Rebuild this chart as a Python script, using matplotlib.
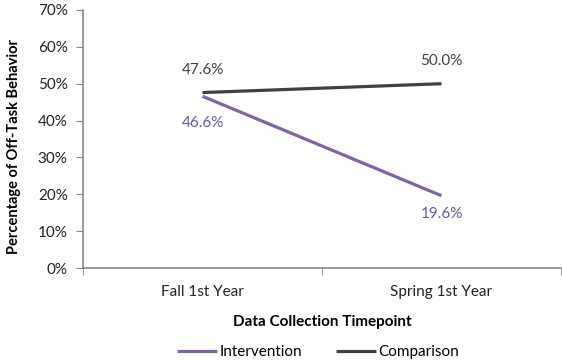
import numpy as np
import matplotlib.pyplot as plt

plt.rcParams['font.family'] = ['Lato', 'DejaVu Sans']

timepoints = ['Fall 1st Year', 'Spring 1st Year']
intervention = [46.6, 19.6]
comparison = [47.6, 50.0]
yticks = np.arange(0, 80, 10)

purple = '#8064a2'
dark = '#404040'
grey = '#868686'
fs = 11

fig = plt.figure(figsize=(5.62, 3.61), dpi=100)
ax = fig.add_axes([0.1477, 0.2576, 0.8505, 0.7147])

x = np.arange(1, len(timepoints) + 1)
ax.plot(x, intervention, color=purple, lw=2.3, solid_capstyle='butt', label='Intervention')
ax.plot(x, comparison, color=dark, lw=2.3, solid_capstyle='butt', label='Comparison')

# data labels
for xi, v in zip(x, comparison):
    ax.annotate(f'{v:.1f}%', (xi, v), xytext=(0, 16), textcoords='offset points',
                ha='center', va='center', fontsize=fs, color=dark)
offs = [-19, -13]
for xi, v, o in zip(x, intervention, offs):
    ax.annotate(f'{v:.1f}%', (xi, v), xytext=(0, o), textcoords='offset points',
                ha='center', va='center', fontsize=fs, color='#6a559a')

ax.set_xlim(0.5, len(timepoints) + 0.5)
ax.set_ylim(0, 70)
ax.set_yticks(yticks)
ax.set_yticklabels([f'{t}%' for t in yticks], fontsize=fs, color='#222222')
ax.set_xticks(x)
ax.set_xticklabels(timepoints, fontsize=fs, color='#222222')
ax.set_xticks(np.arange(0.5, len(timepoints) + 1), minor=True)
ax.tick_params(axis='x', which='major', length=0, pad=12)
ax.tick_params(axis='x', which='minor', length=5, color=grey, direction='out')
ax.tick_params(axis='y', length=5, color=grey, direction='out', pad=6)

for s in ['top', 'right']:
    ax.spines[s].set_visible(False)
for s in ['left', 'bottom']:
    ax.spines[s].set_color(grey)
    ax.spines[s].set_linewidth(1.2)

ax.set_xlabel('Data Collection Timepoint', fontsize=fs, fontweight='bold', labelpad=12)
ax.set_ylabel('Percentage of Off-Task Behavior', fontsize=10.5, fontweight='bold')
ax.yaxis.set_label_coords(-0.13, 0.47)

ax.legend(loc='center', bbox_to_anchor=(0.492, -0.325), ncol=2, frameon=False,
          fontsize=fs, handlelength=2.6, handletextpad=0.2, columnspacing=2.2,
          borderaxespad=0)

fig.savefig('out.png', dpi=100)
